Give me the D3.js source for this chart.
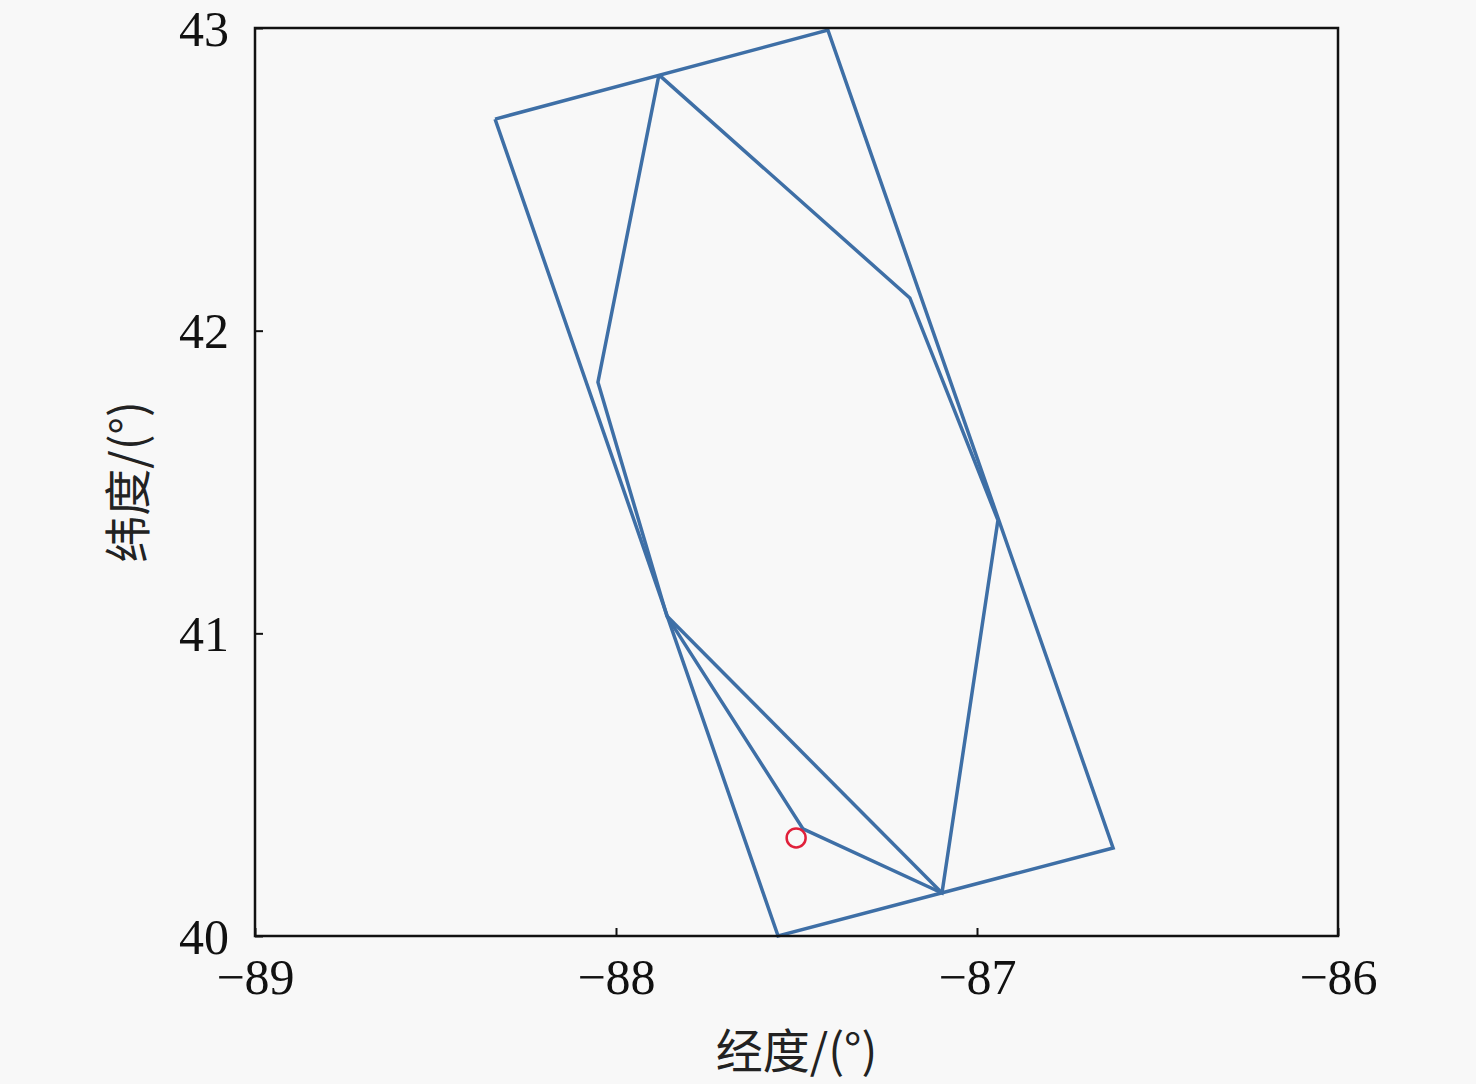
<!DOCTYPE html>
<html>
<head>
<meta charset="utf-8">
<script src="https://cdn.jsdelivr.net/npm/d3@7"></script>
<style>
  body { margin: 0; background: #f8f8f8; }
  svg { display: block; }
</style>
</head>
<body>
<div id="chart"></div>
<script>
// region boundary (rectangle), lon / lat
var rectLon = [-88.335, -87.413, -86.623, -87.551, -88.335];
var rectLat = [42.699, 42.993, 40.291, 40.000, 42.699];

// inner polygon
var polyLon = [-87.881, -87.186, -86.942, -87.097, -87.482, -87.859, -88.050, -87.881];
var polyLat = [42.845, 42.108, 41.374, 40.142, 40.354, 41.057, 41.830, 42.845];

// chord across the lower part
var chordLon = [-87.859, -87.097];
var chordLat = [41.057, 40.142];

// start point
var pointLon = [-87.501];
var pointLat = [40.324];

var xTicks = [-89, -88, -87, -86];
var yTicks = [40, 41, 42, 43];

var margin = {top: 28, right: 138, bottom: 148, left: 255};
var width = 1476, height = 1084;
var w = width - margin.left - margin.right,
    h = height - margin.top - margin.bottom;

var svg = d3.select("#chart").append("svg")
    .attr("width", width)
    .attr("height", height);

var g = svg.append("g").attr("transform", "translate(" + margin.left + "," + margin.top + ")");

var x = d3.scaleLinear().domain([-89, -86]).range([0, w]);
var y = d3.scaleLinear().domain([40, 43]).range([h, 0]);

var fmt = function(d) { return d < 0 ? "\u2212" + Math.abs(d) : d; };

function zip(a, b) { return a.map(function(v, i) { return [v, b[i]]; }); }

var line = d3.line()
    .x(function(d) { return x(d[0]); })
    .y(function(d) { return y(d[1]); });

var col = "#3e6fa6";

g.append("path").datum(zip(rectLon, rectLat))
    .attr("fill", "none").attr("stroke", col).attr("stroke-width", 3.5)
    .attr("stroke-linejoin", "miter").attr("d", line);

g.append("path").datum(zip(polyLon, polyLat))
    .attr("fill", "none").attr("stroke", col).attr("stroke-width", 3.5)
    .attr("d", line);

g.append("path").datum(zip(chordLon, chordLat))
    .attr("fill", "none").attr("stroke", col).attr("stroke-width", 3.5)
    .attr("d", line);

g.selectAll(".pt").data(zip(pointLon, pointLat)).enter().append("circle")
    .attr("class", "pt")
    .attr("cx", function(d) { return x(d[0]); })
    .attr("cy", function(d) { return y(d[1]); })
    .attr("r", 9.5)
    .attr("fill", "none")
    .attr("stroke", "#e0203a")
    .attr("stroke-width", 2.5);

// axes
var xAxis = g.append("g")
    .attr("transform", "translate(0," + h + ")")
    .call(d3.axisBottom(x).tickValues(xTicks).tickFormat(fmt).tickSizeInner(-8).tickSizeOuter(0).tickPadding(22));

var yAxis = g.append("g")
    .call(d3.axisLeft(y).tickValues(yTicks).tickFormat(fmt).tickSizeInner(-8).tickSizeOuter(0).tickPadding(26));

[xAxis, yAxis].forEach(function(a) {
    a.attr("font-family", "'Liberation Serif', 'Times New Roman', serif");
    a.select(".domain").remove();
    a.selectAll(".tick line").attr("stroke", "#111").attr("stroke-width", 2);
    a.selectAll(".tick text")
        .attr("font-family", "'Liberation Serif', 'Times New Roman', serif")
        .attr("font-size", 50).attr("fill", "#111");
});
yAxis.selectAll(".tick text").attr("dy", "0.34em");
xAxis.selectAll(".tick text").attr("dy", "0.72em");

// frame
g.append("rect")
    .attr("width", w).attr("height", h)
    .attr("fill", "none").attr("stroke", "#111").attr("stroke-width", 2.5);

g.append("text")
    .attr("x", w / 2)
    .attr("y", h + 132)
    .attr("text-anchor", "middle")
    .attr("font-family", "'Noto Sans CJK SC', 'Liberation Serif', serif")
    .attr("font-size", 47)
    .attr("fill", "#222")
    .text("经度/(°)");

g.append("text")
    .attr("transform", "translate(" + (-110) + "," + (h / 2) + ") rotate(-90)")
    .attr("text-anchor", "middle")
    .attr("font-family", "'Noto Sans CJK SC', 'Liberation Serif', serif")
    .attr("font-size", 47)
    .attr("fill", "#222")
    .text("纬度/(°)");
</script>
</body>
</html>
